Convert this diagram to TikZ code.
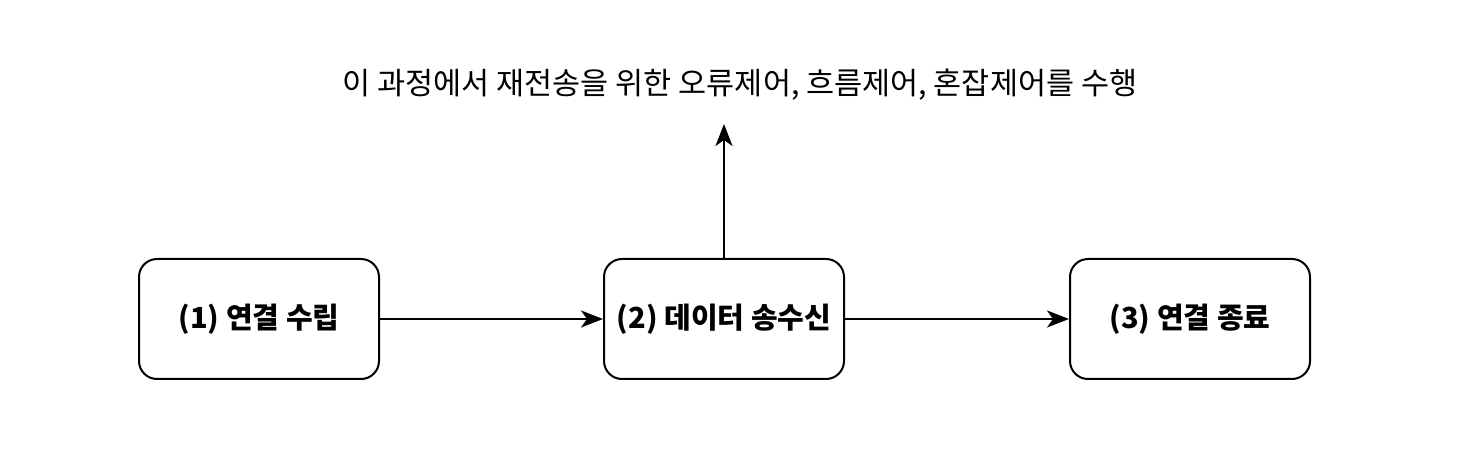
\documentclass[tikz,border=0pt]{standalone}
\usepackage{fontspec}
\setmainfont{Noto Sans CJK KR}
\usetikzlibrary{positioning,arrows.meta}

\tikzset{
  stage/.style={draw, line width=2pt, rounded corners=18pt, minimum width=240pt,
    minimum height=120pt, font=\fontsize{29}{34}\selectfont\bfseries},
  flow/.style={line width=2pt, -{Stealth[length=22pt,width=17pt,inset=6pt]}}
}

\begin{document}
\begin{tikzpicture}[x=1pt, y=-1pt]
\useasboundingbox (0, 0) rectangle (1484, 470);

\node[stage] (s1) at (259, 319) {(1) 연결 수립};
\node[stage] (s2) at (724, 319) {(2) 데이터 송수신};
\node[stage] (s3) at (1190, 319) {(3) 연결 종료};

\node[font=\fontsize{30.5}{36}\selectfont] (note) at (740, 85) {이 과정에서 재전송을 위한 오류제어, 흐름제어, 혼잡제어를 수행};
\coordinate (tip) at (724, 124);

\draw[flow] (s1) -- (s2);
\draw[flow] (s2) -- (s3);
\draw[flow] (s2.north) -- (tip);

\end{tikzpicture}
\end{document}
